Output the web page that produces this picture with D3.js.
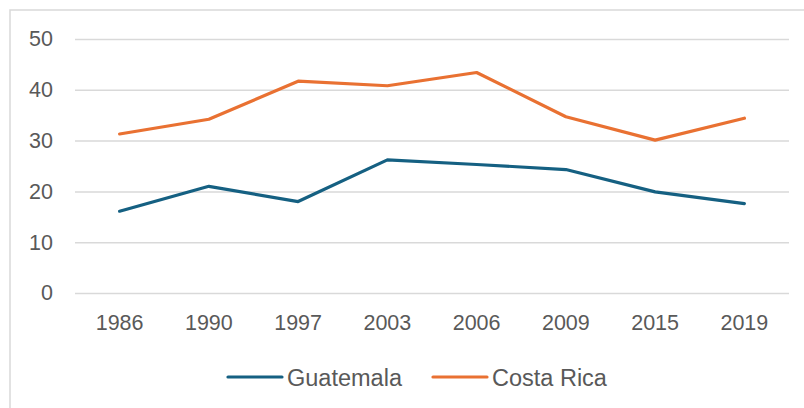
<!DOCTYPE html>
<html>
<head>
<meta charset="utf-8">
<script src="https://cdn.jsdelivr.net/npm/d3@7/dist/d3.min.js"></script>
<style>
  html, body { margin: 0; padding: 0; background: #fff; }
  svg { display: block; font-family: "Liberation Sans", Arial, sans-serif; }
</style>
</head>
<body>
<svg id="chart" width="804" height="408"></svg>
<script>
// Survey years on the category axis
const years = ["1986", "1990", "1997", "2003", "2006", "2009", "2015", "2019"];
// Series values per year
const guatemala = [16.1, 21.0, 18.0, 26.2, 25.3, 24.3, 19.9, 17.6];
const costaRica = [31.3, 34.2, 41.7, 40.8, 43.4, 34.7, 30.1, 34.4];
const seriesNames = ["Guatemala", "Costa Rica"];
const seriesColors = ["#156082", "#E97132"];
const yTicks = [0, 10, 20, 30, 40, 50];

const series = [guatemala, costaRica].map((values, i) => ({
  name: seriesNames[i], color: seriesColors[i], values
}));

const svg = d3.select("#chart");
const plotLeft = 75, plotRight = 789, plotTop = 39, plotBottom = 293;
const textColor = "#595959";
const fontSize = 21.5;

// Chart area frame
svg.append("rect")
  .attr("x", 10).attr("y", 10)
  .attr("width", 820).attr("height", 420)
  .attr("fill", "#fff")
  .attr("stroke", "#d9d9d9").attr("stroke-width", 1.5);

const x = d3.scaleBand().domain(years).range([plotLeft, plotRight]).padding(0);
const y = d3.scaleLinear().domain([0, 50]).range([plotBottom, plotTop]);

// Value axis with gridlines
const yAxis = svg.append("g")
  .attr("transform", `translate(${plotLeft},0)`)
  .call(d3.axisLeft(y).tickValues(yTicks).tickSize(-(plotRight - plotLeft)).tickPadding(22));
yAxis.select(".domain").remove();
yAxis.selectAll(".tick line").attr("stroke", "#d9d9d9").attr("stroke-width", 1.5);
yAxis.selectAll(".tick text")
  .attr("fill", textColor).attr("font-size", fontSize)
  .attr("font-family", "Liberation Sans, Arial, sans-serif");

// Category axis
const xAxis = svg.append("g")
  .attr("transform", `translate(0,${plotBottom})`)
  .call(d3.axisBottom(x).tickSize(0).tickPadding(22));
xAxis.select(".domain").remove();
xAxis.selectAll(".tick text")
  .attr("fill", textColor).attr("font-size", fontSize)
  .attr("font-family", "Liberation Sans, Arial, sans-serif");

// Lines
const line = d3.line()
  .x((d, i) => x(years[i]) + x.bandwidth() / 2)
  .y(d => y(d));

svg.selectAll("path.series")
  .data(series)
  .join("path")
  .attr("class", "series")
  .attr("d", d => line(d.values))
  .attr("fill", "none")
  .attr("stroke", d => d.color)
  .attr("stroke-width", 3.2)
  .attr("stroke-linejoin", "round")
  .attr("stroke-linecap", "round");

// Legend
const legendX = [228, 433];
const legendY = 377;
const lg = svg.selectAll("g.legend")
  .data(series)
  .join("g")
  .attr("class", "legend")
  .attr("transform", (d, i) => `translate(${legendX[i]},${legendY})`);
lg.append("line")
  .attr("x1", 0).attr("x2", 54)
  .attr("y1", 0).attr("y2", 0)
  .attr("stroke", d => d.color)
  .attr("stroke-width", 3.2)
  .attr("stroke-linecap", "round");
lg.append("text")
  .attr("x", 59).attr("y", 8.5)
  .attr("fill", textColor)
  .attr("font-size", 23.5)
  .text(d => d.name);
</script>
</body>
</html>
